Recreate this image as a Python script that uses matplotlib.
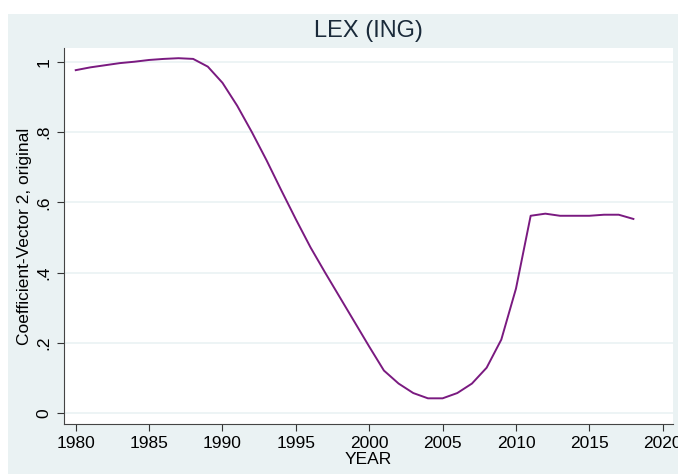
import numpy as np
import matplotlib.pyplot as plt
from matplotlib.patches import Rectangle

plt.rcParams['font.family'] = ['Liberation Sans', 'DejaVu Sans']

years = list(range(1980, 2019))
coef = [0.976, 0.984, 0.990, 0.996, 1.000, 1.005, 1.008, 1.010, 1.008, 0.986,
        0.940, 0.875, 0.800, 0.720, 0.635, 0.552, 0.472, 0.400, 0.330, 0.260,
        0.190, 0.122, 0.085, 0.058, 0.043, 0.043, 0.058, 0.085, 0.130, 0.210,
        0.355, 0.562, 0.568, 0.562, 0.562, 0.562, 0.565, 0.565, 0.553]

xticks = [1980, 1985, 1990, 1995, 2000, 2005, 2010, 2015, 2020]
yticks = [0, 0.2, 0.4, 0.6, 0.8, 1.0]
ylabels = ['0', '.2', '.4', '.6', '.8', '1']

bg = '#eaf2f3'
fig = plt.figure(figsize=(6.78, 4.74), dpi=100, facecolor='white')
fig.patches.append(Rectangle((8/678, 0), 1, 1 - 14/474, transform=fig.transFigure,
                             facecolor=bg, edgecolor='none', zorder=-1))

ax = fig.add_axes([64/678, 1 - 424/474, (673-64)/678, (424-48)/474])
ax.set_facecolor('white')
ax.plot(years, coef, color='#7a1a80', lw=1.4)

ax.set_xlim(1979.2, 2020.7)
ax.set_ylim(-0.030, 1.039)
ax.set_xticks(xticks)
ax.set_yticks(yticks)
ax.set_yticklabels(ylabels, rotation=90, va='center')
ax.tick_params(labelsize=12.5, length=5, color='#333333', labelcolor='black')
ax.tick_params(axis='x', pad=4)
ax.tick_params(axis='y', pad=4)
ax.grid(axis='y', color=bg, lw=1.2)
ax.set_axisbelow(True)
for s in ['top', 'right']:
    ax.spines[s].set_visible(False)
for s in ['left', 'bottom']:
    ax.spines[s].set_color('#444444')

ax.set_xlabel('YEAR', fontsize=12.5, labelpad=0)
ax.set_ylabel('Coefficient-Vector 2, original', fontsize=12.5, labelpad=3)
fig.text(368.7/678, 1 - 31.5/474, 'LEX (ING)', ha='center', va='center',
         fontsize=17, color='#1a2a3a')

fig.savefig('out.png', dpi=100, facecolor=fig.get_facecolor())
